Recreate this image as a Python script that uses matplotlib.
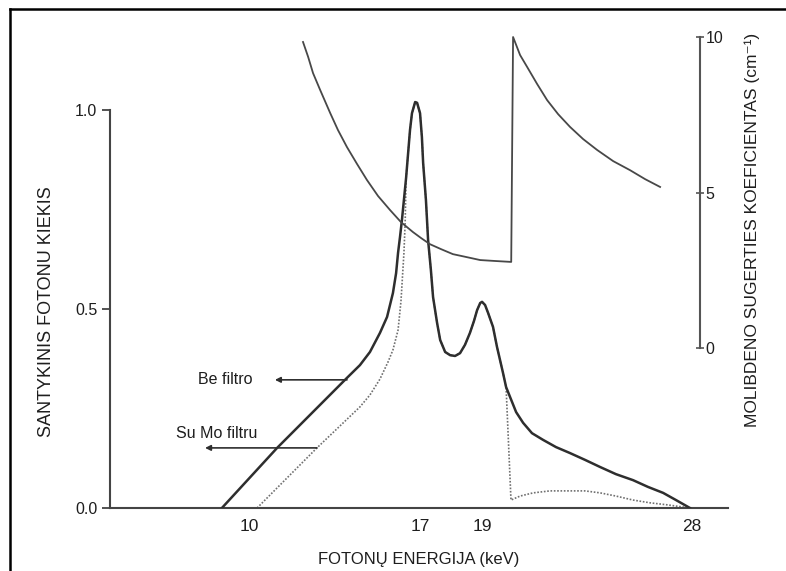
import numpy as np
import matplotlib.pyplot as plt
from matplotlib.lines import Line2D

plt.rcParams['font.family'] = ['Liberation Sans', 'DejaVu Sans']

# spektras be filtro: energija (keV) ir santykinis fotonu kiekis
be_kev = [8.89, 11.15, 14.01, 14.54, 14.95, 15.36, 15.65, 15.89, 16.02, 16.10, 16.18,
          16.26, 16.34, 16.43, 16.51, 16.59, 16.67, 16.80, 16.88, 17.00, 17.06, 17.10,
          17.19, 17.26, 17.35, 17.42, 17.55, 17.65, 17.81, 17.97, 18.13, 18.29, 18.45,
          18.61, 18.74, 18.84, 18.94, 19.00, 19.13, 19.26, 19.47, 19.64, 19.77, 19.90,
          20.03, 20.20, 20.46, 20.76, 21.14, 21.62, 22.17, 22.77, 23.41, 24.06, 24.74,
          25.47, 26.11, 26.76, 27.31, 27.91]
be_val = [0.0, 0.151, 0.327, 0.359, 0.392, 0.440, 0.480, 0.540, 0.590, 0.641, 0.681,
          0.724, 0.774, 0.830, 0.890, 0.950, 0.992, 1.020, 1.018, 0.992, 0.932, 0.867,
          0.774, 0.673, 0.598, 0.530, 0.465, 0.422, 0.392, 0.384, 0.382, 0.389, 0.410,
          0.440, 0.470, 0.497, 0.515, 0.518, 0.510, 0.490, 0.455, 0.405, 0.372, 0.339,
          0.304, 0.279, 0.241, 0.214, 0.188, 0.171, 0.153, 0.138, 0.121, 0.103, 0.085,
          0.070, 0.053, 0.038, 0.020, 0.0]

# spektras su Mo filtru
mo_kev = [10.33, 12.78, 14.54, 14.95, 15.36, 15.69, 15.89, 16.10, 16.22, 16.30, 16.34,
          16.39, 16.43, 16.51, 16.59, 16.67, 16.80, 16.88, 17.00, 17.06, 17.10, 17.19,
          17.26, 17.35, 17.42, 17.55, 17.65, 17.81, 17.97, 18.13, 18.29, 18.45, 18.61,
          18.74, 18.84, 18.94, 19.00, 19.13, 19.26, 19.47, 19.64, 19.77, 19.90, 20.03,
          20.24, 20.63, 21.19, 21.91, 22.64, 23.41, 24.06, 24.74, 25.47, 26.20, 26.93,
          27.91]
mo_val = [0.0, 0.151, 0.254, 0.284, 0.324, 0.367, 0.397, 0.447, 0.520, 0.600, 0.640,
          0.715, 0.830, 0.890, 0.950, 0.992, 1.020, 1.018, 0.992, 0.932, 0.867, 0.774,
          0.673, 0.598, 0.530, 0.465, 0.422, 0.392, 0.384, 0.382, 0.389, 0.410, 0.440,
          0.470, 0.497, 0.515, 0.518, 0.510, 0.490, 0.455, 0.405, 0.372, 0.339, 0.304,
          0.020, 0.030, 0.038, 0.043, 0.043, 0.043, 0.038, 0.030, 0.020, 0.013, 0.008,
          0.0]

# molibdeno sugerties koeficientas (cm^-1)
abs_kev = [12.21, 12.42, 12.62, 12.91, 13.32, 13.64, 14.01, 14.42, 14.83, 15.28, 15.77,
           16.22, 16.71, 17.03, 17.32, 17.68, 18.06, 18.48, 18.94, 19.56, 20.25,
           20.33, 20.63, 20.93, 21.36, 21.79, 22.26, 22.77, 23.33, 23.93, 24.62, 25.34,
           25.99, 26.63]
abs_val = [9.84, 9.36, 8.84, 8.30, 7.56, 7.01, 6.46, 5.92, 5.40, 4.89, 4.44,
           4.05, 3.73, 3.54, 3.34, 3.18, 3.02, 2.93, 2.83, 2.80, 2.77,
           10.0, 9.42, 9.04, 8.49, 7.97, 7.52, 7.11, 6.72, 6.37, 6.01, 5.72,
           5.43, 5.18]

x_ticks = [10, 17, 19, 28]
y_ticks = [0.0, 0.5, 1.0]
y2_ticks = [0, 5, 10]

# the drawn energy axis is not uniform: 17 and 19 sit further apart than the rest
kev_knots = [0, 10, 17, 19, 28, 40]
pos_knots = [4.7, 249, 420, 482, 692, 972]


def fwd(x):
    return np.interp(x, kev_knots, pos_knots)


def inv(p):
    return np.interp(p, pos_knots, kev_knots)


W, H = 786, 571
fig = plt.figure(figsize=(W / 100, H / 100), dpi=100)
ax = fig.add_axes([110 / W, (H - 508) / H, (728 - 110) / W, (508 - 30) / H])
ax.set_xscale('function', functions=(fwd, inv))
ax.set_xlim(4.31, 29.54)
ax.set_ylim(0, 1.201)

lc = '#2e2e2e'
tc = '#1e1e1e'
ax.plot(mo_kev, mo_val, color='#707070', lw=1.2, ls=(0, (1, 1)), zorder=2)
ax.plot(be_kev, be_val, color=lc, lw=1.8, zorder=3, solid_joinstyle='round')

for s in ['top', 'right']:
    ax.spines[s].set_visible(False)
ax.spines['left'].set_bounds(0, 1.0)
for s in ['left', 'bottom']:
    ax.spines[s].set_color('#444444')
    ax.spines[s].set_linewidth(1.5)

ax.set_xticks(x_ticks)
ax.set_xticklabels([str(t) for t in x_ticks])
ax.tick_params(axis='x', length=0, pad=8, labelsize=12.5, labelcolor=tc)
ax.set_yticks(y_ticks)
ax.set_yticklabels(['0.0', '0.5', '1.0'])
ax.tick_params(axis='y', length=6, width=1.3, color='#444444', pad=3,
               labelsize=11.5, labelcolor=tc)

ax.set_xlabel('FOTONŲ ENERGIJA (keV)', fontsize=12, color=tc, labelpad=13)
ax.set_ylabel('SANTYKINIS FOTONU KIEKIS', fontsize=13, color=tc)
ax.yaxis.set_label_coords((55 - 110) / 618, (508 - 312) / 478)

# rodykles su uzrasais
ax.annotate('', xy=(11.06, 0.322), xytext=(14.01, 0.322),
            arrowprops=dict(arrowstyle='-|>', color=lc, lw=1.2, mutation_scale=8,
                            shrinkA=0, shrinkB=0))
ax.text(10.16, 0.322, 'Be filtro', ha='right', va='center', fontsize=11.5, color=tc)
ax.annotate('', xy=(8.2, 0.151), xytext=(12.78, 0.151),
            arrowprops=dict(arrowstyle='-|>', color=lc, lw=1.2, mutation_scale=8,
                            shrinkA=0, shrinkB=0))
ax.text(10.33, 0.188, 'Su Mo filtru', ha='right', va='center', fontsize=11.5, color=tc)

# desine asis: sugerties koeficientas
ax2 = ax.twinx()
ax2.set_ylim(-5.14, 10.225)
ax2.plot(abs_kev, abs_val, color='#484848', lw=1.3, zorder=2, solid_joinstyle='round')
for s in ['top', 'left', 'bottom']:
    ax2.spines[s].set_visible(False)
ax2.spines['right'].set_position(('axes', (700 - 110) / (728 - 110)))
ax2.spines['right'].set_bounds(0, 10)
ax2.spines['right'].set_color('#555555')
ax2.spines['right'].set_linewidth(1.5)
ax2.set_yticks(y2_ticks)
ax2.tick_params(axis='y', direction='inout', length=6, width=1.2, color='#555555',
                pad=1, labelsize=11.5, labelcolor=tc)
ax2.set_ylabel('MOLIBDENO SUGERTIES KOEFICIENTAS (cm⁻¹)', fontsize=12.5, color=tc)
ax2.yaxis.set_label_coords((745 - 110) / 618, (508 - 230) / 478)

# remelis (tik kaire ir virsus)
fig.add_artist(Line2D([9.5 / W, 9.5 / W], [0, 1 - 9 / H], color='black', lw=1.8))
fig.add_artist(Line2D([9.5 / W, 1], [1 - 9 / H, 1 - 9 / H], color='black', lw=1.8))

fig.savefig('out.png', dpi=100)
